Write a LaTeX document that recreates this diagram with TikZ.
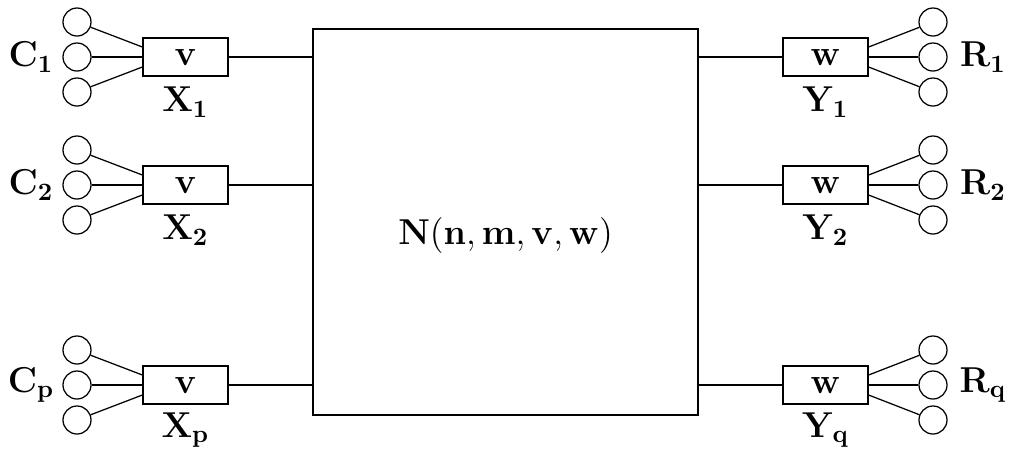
\documentclass[tikz,border=0pt]{standalone}
\usetikzlibrary{positioning, calc}
\tikzset{
  every picture/.style={line width=0.5pt},
  port/.style={draw, rectangle, minimum width=85*0.4pt, minimum height=38*0.4pt, inner sep=0pt, font=\fontsize{14.4}{17}\selectfont},
  pin/.style={draw, circle, minimum size=28*0.4pt, inner sep=0pt},
  netbox/.style={draw, rectangle, minimum width=385*0.4pt, minimum height=386*0.4pt, inner sep=0pt},
  lbl/.style={font=\fontsize{14.4}{17}\selectfont, inner sep=0pt},
}

\begin{document}
\begin{tikzpicture}[x=0.4pt, y=-0.4pt]
  \useasboundingbox (0,0) rectangle (1013,448);
  % network in the middle
  \node[netbox] (net) at (505.5,222) {};
  \node[lbl] (netname) at (505.5,235) {$\mathbf{N(n,m,v,w)}$};
  % input side
  \foreach \r/\y/\s in {1/57/1, 2/185/2, p/385/p} {
    \node[port] (x\r) at (185.5,\y) {$\mathbf{v}$};
    \node[lbl] (xl\r) at (185.5,\y+45) {$\mathbf{X_\s}$};
    \node[pin] (ca\r) at (77,\y-35) {};
    \node[pin] (cb\r) at (77,\y) {};
    \node[pin] (cc\r) at (77,\y+35) {};
    \node[lbl] (cl\r) at (31,\y) {$\mathbf{C_\s}$};
    \draw (ca\r) -- ($(x\r.west)+(0,-10)$);
    \draw (cb\r) -- (x\r.west);
    \draw (cc\r) -- ($(x\r.west)+(0,10)$);
    \draw (x\r.east) -- (x\r.east -| net.west);
  }
  % output side
  \foreach \r/\y/\s in {1/57/1, 2/185/2, q/385/q} {
    \node[port] (y\r) at (825.5,\y) {$\mathbf{w}$};
    \node[lbl] (yl\r) at (825.5,\y+45) {$\mathbf{Y_\s}$};
    \node[pin] (ra\r) at (933,\y-35) {};
    \node[pin] (rb\r) at (933,\y) {};
    \node[pin] (rc\r) at (933,\y+35) {};
    \node[lbl] (rl\r) at (983,\y) {$\mathbf{R_\s}$};
    \draw (ra\r) -- ($(y\r.east)+(0,-10)$);
    \draw (rb\r) -- (y\r.east);
    \draw (rc\r) -- ($(y\r.east)+(0,10)$);
    \draw (y\r.west) -- (y\r.west -| net.east);
  }
\end{tikzpicture}
\end{document}
